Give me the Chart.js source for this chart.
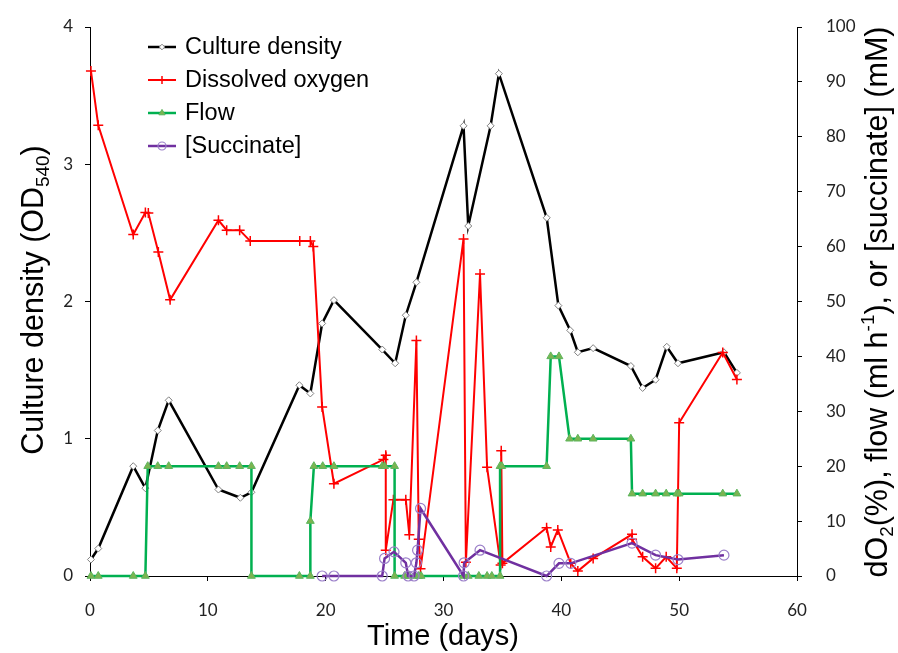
<!DOCTYPE html>
<html>
<head>
<meta charset="utf-8">
<script src="https://cdn.jsdelivr.net/npm/chart.js@4.4.1/dist/chart.umd.min.js"></script>
<style>
    html, body { margin: 0; padding: 0; background: #fff; }
    #wrap { width: 898px; height: 653px; position: relative; }
</style>
</head>
<body>
<div id="wrap"><canvas id="chart"></canvas></div>
<script>
// Culture density (OD540), left axis
const densityDays = [0.08, 0.7, 3.67, 4.7, 5.75, 6.68, 10.9, 12.76, 13.7, 17.77, 18.7, 19.7, 20.7,
    24.8, 25.9, 26.8, 27.7, 31.7, 32.1, 34.0, 34.7, 38.76, 39.75, 40.75, 41.4, 42.7, 45.9, 46.9,
    48.0, 48.95, 49.9, 53.8, 54.9];
const densityOD = [0.12, 0.2, 0.80, 0.64, 1.06, 1.28, 0.63, 0.57, 0.61, 1.39, 1.33, 1.84, 2.01,
    1.65, 1.55, 1.90, 2.14, 3.28, 2.55, 3.28, 3.66, 2.61, 1.97, 1.79, 1.63, 1.66, 1.53, 1.37,
    1.43, 1.67, 1.55, 1.63, 1.48];

// dissolved oxygen (%), right axis
const oxygenDays = [0.08, 0.7, 3.67, 4.7, 4.95, 5.8, 6.8, 10.9, 11.6, 12.7, 13.6, 17.8, 18.7, 18.95,
    19.7, 20.7, 24.9, 25.1, 25.1, 25.75, 26.8, 27.1, 27.7, 27.9, 28.05, 31.7, 31.9, 33.1, 33.7,
    34.85, 34.9, 35.0, 38.75, 39.1, 39.7, 40.8, 41.4, 42.7, 46.0, 46.0, 46.9, 48.0, 48.9, 49.8,
    50.0, 53.7, 54.9];
const oxygenPct = [92.0, 82.1, 62.2, 66.2, 66.1, 59.0, 50.3, 64.8, 63.0, 63.0, 61.0, 61.0, 61.0, 60.0,
    30.8, 16.8, 21.2, 22.0, 4.7, 13.9, 13.9, 7.5, 42.9, 6.7, 1.3, 61.4, 2.5, 55.0, 19.8,
    2.0, 22.8, 2.3, 8.8, 5.3, 8.4, 2.3, 0.9, 3.2, 7.6, 6.7, 3.5, 1.4, 3.5, 1.4,
    27.9, 40.7, 35.8];

// flow (ml/h), right axis
const flowDays = [0.08, 0.7, 3.67, 4.7, 4.9, 5.75, 6.68, 10.9, 11.6, 12.7, 13.7, 13.7, 17.77, 18.7,
    18.7, 19.0, 19.75, 20.7, 24.8, 25.0, 25.85, 25.85, 26.7, 27.1, 27.6, 27.9, 28.1, 31.7, 32.1,
    33.0, 33.7, 34.1, 34.8, 34.8, 34.95, 38.75, 39.1, 39.8, 40.7, 41.4, 42.7, 45.9, 46.0, 46.9,
    48.0, 48.9, 49.8, 50.0, 53.7, 54.9];
const flowRate = [0, 0, 0, 0, 20, 20, 20, 20, 20, 20, 20, 0, 0, 0,
    10, 20, 20, 20, 20, 20, 20, 0, 0, 0, 0, 0, 0, 0, 0,
    0, 0, 0, 0, 20, 20, 20, 40, 40, 25, 25, 25, 25, 15, 15,
    15, 15, 15, 15, 15, 15];

// [succinate] (mM), right axis
const succDays = [19.7, 20.7, 24.8, 25.0, 25.8, 26.8, 27.0, 27.5, 27.7, 27.8, 28.05, 31.7, 31.75,
    33.1, 38.75, 39.8, 40.8, 46.0, 48.0, 49.9, 53.8];
const succMM = [0, 0, 0, 3.2, 4.4, 2.4, 0, 0, 2.4, 4.7, 12.3, 0, 2.4,
    4.7, 0, 2.3, 2.3, 6.0, 3.8, 3.0, 3.8];

const xTicks = [0, 10, 20, 30, 40, 50, 60];

function toPoints(xs, ys) {
    return xs.map((x, i) => ({ x: x, y: ys[i] }));
}

const tickFont = { family: 'Lato', size: 17 };
const titleFamily = '"Liberation Sans", Arial, sans-serif';

// draws a title made of normal / sub / sup pieces, centred on (cx, cy)
function drawRichText(ctx, parts, cx, cy, angle, size) {
    ctx.save();
    ctx.translate(cx, cy);
    ctx.rotate(angle);
    ctx.fillStyle = '#000';
    ctx.textBaseline = 'middle';
    ctx.textAlign = 'left';
    let total = 0;
    const widths = parts.map(p => {
        const s = p.sub || p.sup ? size * 0.62 : size;
        ctx.font = s + 'px ' + titleFamily;
        const w = ctx.measureText(p.t).width;
        total += w;
        return w;
    });
    let x = -total / 2;
    parts.forEach((p, i) => {
        const s = p.sub || p.sup ? size * 0.62 : size;
        ctx.font = s + 'px ' + titleFamily;
        let dy = 0;
        if (p.sub) dy = size * 0.3;
        if (p.sup) dy = -size * 0.35;
        ctx.fillText(p.t, x, dy);
        x += widths[i];
    });
    ctx.restore();
}

function drawMarker(ctx, style, r, x, y) {
    ctx.beginPath();
    if (style === 'rectRot') {
        ctx.moveTo(x, y - r); ctx.lineTo(x + r, y); ctx.lineTo(x, y + r); ctx.lineTo(x - r, y);
        ctx.closePath(); ctx.fill(); ctx.stroke();
    } else if (style === 'cross') {
        ctx.moveTo(x - r, y); ctx.lineTo(x + r, y); ctx.moveTo(x, y - r); ctx.lineTo(x, y + r);
        ctx.stroke();
    } else if (style === 'triangle') {
        const h = r * 1.5;
        ctx.moveTo(x, y - r); ctx.lineTo(x + h * 0.58, y + r * 0.5); ctx.lineTo(x - h * 0.58, y + r * 0.5);
        ctx.closePath(); ctx.fill(); ctx.stroke();
    } else {
        ctx.arc(x, y, r, 0, Math.PI * 2);
        ctx.fill(); ctx.stroke();
    }
}

const titlesPlugin = {
    id: 'titles',
    afterDraw(chart) {
        const ctx = chart.ctx;
        drawRichText(ctx, [{ t: 'Time (days)' }], 443, 637, 0, 29);
        drawRichText(ctx, [{ t: 'Culture density (OD' }, { t: '540', sub: true }, { t: ')' }],
            35, 300, -Math.PI / 2, 30.5);
        drawRichText(ctx, [{ t: 'dO' }, { t: '2', sub: true }, { t: '(%), flow (ml h' }, { t: '-1', sup: true },
            { t: '), or [succinate] (mM)' }], 879, 302, -Math.PI / 2, 30.5);

        // legend in the upper left of the plot
        const rows = [47, 80, 113, 146];
        chart.data.datasets.forEach((ds, i) => {
            const y = rows[i];
            ctx.save();
            ctx.strokeStyle = ds.borderColor;
            ctx.lineWidth = ds.borderWidth;
            ctx.beginPath();
            ctx.moveTo(148, y);
            ctx.lineTo(176, y);
            ctx.stroke();
            ctx.fillStyle = ds.pointBackgroundColor || '#fff';
            ctx.strokeStyle = ds.pointBorderColor;
            ctx.lineWidth = ds.pointBorderWidth;
            drawMarker(ctx, ds.pointStyle, ds.pointRadius * 0.8, 162, y);
            ctx.fillStyle = '#000';
            ctx.font = '23.5px ' + titleFamily;
            ctx.textBaseline = 'middle';
            ctx.fillText(ds.label, 185, y + 1);
            ctx.restore();
        });
    }
};

// fixed axis sizes so the plot area lands where the reference has it
function fitVertical(width) {
    return s => {
        s.width = width;
        s.paddingTop = 0;
        s.paddingBottom = 0;
    };
}

const ctx = document.getElementById('chart').getContext('2d');
new Chart(ctx, {
    type: 'line',
    data: {
        datasets: [
            {
                label: 'Culture density',
                data: toPoints(densityDays, densityOD),
                yAxisID: 'y',
                borderColor: '#000000',
                borderWidth: 2.5,
                pointStyle: 'rectRot',
                pointRadius: 3.5,
                pointBackgroundColor: '#ffffff',
                pointBorderColor: '#808080',
                pointBorderWidth: 1,
                order: 4
            },
            {
                label: 'Dissolved oxygen',
                data: toPoints(oxygenDays, oxygenPct),
                yAxisID: 'y2',
                borderColor: '#ff0000',
                borderWidth: 2,
                pointStyle: 'cross',
                pointRadius: 5,
                pointBorderColor: '#ff0000',
                pointBorderWidth: 1.5,
                order: 3
            },
            {
                label: 'Flow',
                data: toPoints(flowDays, flowRate),
                yAxisID: 'y2',
                borderColor: '#00b050',
                borderWidth: 2.5,
                pointStyle: 'triangle',
                pointRadius: 4.5,
                pointBackgroundColor: '#7cb451',
                pointBorderColor: '#5cb55c',
                pointBorderWidth: 1,
                order: 2
            },
            {
                label: '[Succinate]',
                data: toPoints(succDays, succMM),
                yAxisID: 'y2',
                borderColor: '#7030a0',
                borderWidth: 2.5,
                pointStyle: 'circle',
                pointRadius: 5,
                pointBackgroundColor: 'rgba(255,255,255,0)',
                pointBorderColor: '#9b7fc9',
                pointBorderWidth: 1.2,
                order: 1
            }
        ]
    },
    options: {
        responsive: true,
        maintainAspectRatio: false,
        animation: false,
        devicePixelRatio: 1,
        layout: { padding: { top: 27, left: 0, right: 0, bottom: 0 } },
        elements: { line: { tension: 0 } },
        datasets: { line: { clip: false } },
        plugins: {
            legend: { display: false },
            tooltip: { enabled: false }
        },
        scales: {
            x: {
                type: 'linear',
                min: 0,
                max: 60,
                afterBuildTicks: s => { s.ticks = xTicks.map(v => ({ value: v })); },
                afterFit: s => { s.height = 77; s.paddingLeft = 0; s.paddingRight = 0; },
                ticks: { font: tickFont, color: '#222', padding: 19, maxRotation: 0 },
                grid: { drawOnChartArea: false, drawTicks: true, tickLength: 5, color: '#000' },
                border: { color: '#000', width: 1 }
            },
            y: {
                position: 'left',
                min: 0,
                max: 4,
                afterFit: fitVertical(90),
                ticks: { stepSize: 1, font: tickFont, color: '#222', padding: 12 },
                grid: { drawOnChartArea: false, drawTicks: true, tickLength: 5, color: '#000' },
                border: { color: '#000', width: 1 }
            },
            y2: {
                position: 'right',
                min: 0,
                max: 100,
                afterFit: fitVertical(101),
                ticks: { stepSize: 10, font: tickFont, color: '#222', padding: 24 },
                grid: { drawOnChartArea: false, drawTicks: true, tickLength: 5, color: '#000' },
                border: { color: '#000', width: 1 }
            }
        }
    },
    plugins: [titlesPlugin]
});
</script>
</body>
</html>
